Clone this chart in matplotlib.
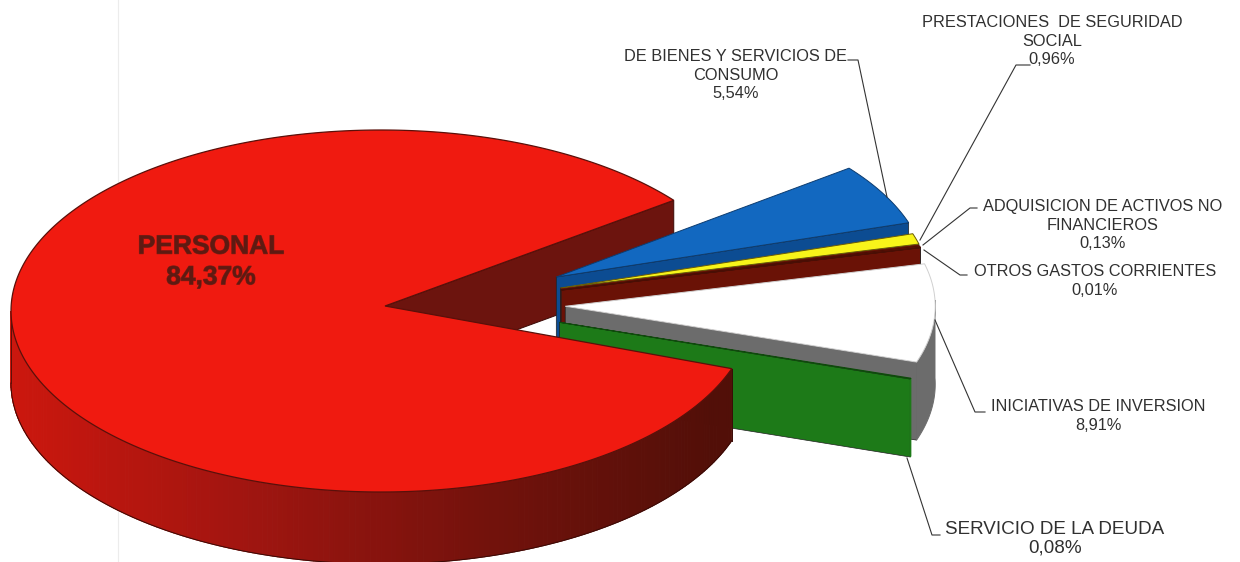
"""Exploded 3D style pie of budget shares, drawn by hand on one axes."""

import matplotlib

matplotlib.use("Agg")
import matplotlib.patheffects as pe
import matplotlib.pyplot as plt
import numpy as np
from matplotlib.colors import LinearSegmentedColormap

plt.rcParams["font.family"] = ["Liberation Sans", "DejaVu Sans"]

# data, in drawing order going clockwise from the big slice's end
categories = [
    "DE BIENES Y SERVICIOS DE\nCONSUMO",
    "PRESTACIONES  DE SEGURIDAD\nSOCIAL",
    "ADQUISICION DE ACTIVOS NO\nFINANCIEROS",
    "OTROS GASTOS CORRIENTES",
    "INICIATIVAS DE INVERSION",
    "SERVICIO DE LA DEUDA",
]
shares = [5.54, 0.96, 0.13, 0.01, 8.91, 0.08]
main_category = "PERSONAL"
main_share = 84.37

top_colors = ["#1268c0", "#f8f41a", "#6a1206", "#6a1206", "#ffffff", "#1d7a18"]
wall_colors = ["#0c4c92", "#6a1206", "#6a1206", "#6a1206", "#6c6c6c", "#1d7a18"]
edge_colors = ["#0c3c70", "#6a5a06", "#4a0e04", "#4a0e04", "#d0d0d0", "#0f4a0c"]

START_ANGLE = 37.7
MAIN_RX, MAIN_RY = 370, 181
MAIN_CX, MAIN_CY = 381, 311
APEX_X, APEX_Y = 385, 306
DEPTH = 72
SLICE_RX, SLICE_RY = 370, 178
SLICE_DEPTH = 78
EXPLODE_X, EXPLODE_Y = 181, 58
OFFSET_Y = 304


def rim(cx, cy, rx, ry, a0, a1, n=120):
    """Points on the ellipse between two angles in degrees."""
    t = np.radians(np.linspace(a0, a1, n))
    return np.column_stack([cx + rx * np.cos(t), cy - ry * np.sin(t)])


def face(ax, pts, color, edge, lw=0.7, z=1):
    ax.fill(pts[:, 0], pts[:, 1], facecolor=color, edgecolor=edge, linewidth=lw, zorder=z)


def draw_slice(ax, cx, cy, a0, a1, top, wall, edge, z):
    """One exploded slice: lower cut face, outer wall and top."""
    down = np.array([0, SLICE_DEPTH])
    apex = np.array([cx, cy])
    end = rim(cx, cy, SLICE_RX, SLICE_RY, a1, a1, 1)[0]
    face(ax, np.array([apex, end, end + down, apex + down]), wall, "#202020", lw=0.5, z=z)
    if a1 < 0:
        vis = rim(cx, cy, SLICE_RX, SLICE_RY, min(a0, 2), a1)
        band = np.vstack([vis, (vis + down)[::-1]])
        face(ax, band, wall, wall, z=z)
    outer = rim(cx, cy, SLICE_RX, SLICE_RY, a0, a1)
    face(ax, np.vstack([apex, outer]), top, edge, z=z + 0.5)


fig = plt.figure(figsize=(12.4, 5.62), dpi=100)
ax = fig.add_axes([0, 0, 1, 1])
ax.set_xlim(0, 1240)
ax.set_ylim(562, 0)
ax.axis("off")

# faint scan line
ax.plot([118, 118], [0, 562], color="#ececec", lw=0.8, zorder=0)

main_sweep = main_share * 3.6
main_end = START_ANGLE - (360 - main_sweep)  # clockwise end of the gap

# back cut face of the big slice, under everything else
apex = np.array([APEX_X, APEX_Y])
edge_pt = rim(MAIN_CX, MAIN_CY, MAIN_RX, MAIN_RY, START_ANGLE, START_ANGLE, 1)[0]
down = np.array([0, DEPTH])
face(ax, np.array([apex, edge_pt, edge_pt + down, apex + down]), "#6c140e", "#3a0a06", z=1)

# exploded slices, back to front
a0 = START_ANGLE
for i, share in enumerate(shares):
    a1 = a0 - share * 3.6
    mid = (a0 + a1) / 2
    draw_slice(
        ax,
        APEX_X + EXPLODE_X - 0.35 * abs(mid),
        OFFSET_Y - EXPLODE_Y * np.sin(np.radians(mid)),
        a0,
        a1,
        top_colors[i],
        wall_colors[i],
        edge_colors[i],
        2 + i,
    )
    a0 = a1

# big slice wall, shaded left to right
shade = LinearSegmentedColormap.from_list("wall", ["#cc170e", "#a01510", "#74120c", "#520f08"])
angles = np.linspace(180, 360 + main_end, 200)
for a, b in zip(angles[:-1], angles[1:]):
    seg = rim(MAIN_CX, MAIN_CY, MAIN_RX, MAIN_RY, a, b, 3)
    quad = np.vstack([seg, (seg + [0, DEPTH])[::-1]])
    col = shade((seg[0, 0] - (MAIN_CX - MAIN_RX)) / (2 * MAIN_RX * 0.95))
    ax.fill(quad[:, 0], quad[:, 1], facecolor=col, edgecolor=col, linewidth=0.8, zorder=10)
bottom = rim(MAIN_CX, MAIN_CY + DEPTH, MAIN_RX, MAIN_RY, 180, 360 + main_end)
ax.plot(bottom[:, 0], bottom[:, 1], color="#3a0a06", lw=0.7, zorder=11)
left_x = MAIN_CX - MAIN_RX
ax.plot([left_x, left_x], [MAIN_CY, MAIN_CY + DEPTH], color="#5a100a", lw=0.7, zorder=11)
end_pt = rim(MAIN_CX, MAIN_CY, MAIN_RX, MAIN_RY, main_end, main_end, 1)[0]
ax.plot([end_pt[0], end_pt[0]], [end_pt[1], end_pt[1] + DEPTH], color="#3a0a06", lw=0.7, zorder=11)

# big slice top
outer = rim(MAIN_CX, MAIN_CY, MAIN_RX, MAIN_RY, START_ANGLE, 360 + main_end, 400)
face(ax, np.vstack([apex, outer]), "#f01a10", "#5a100a", lw=0.9, z=12)

# leader lines
leaders = [
    ([848, 858, 887], [60, 60, 197]),
    ([1030, 1016, 920], [65, 65, 240]),
    ([977, 970, 923], [208, 208, 245]),
    ([967, 960, 924], [275, 275, 250]),
    ([985, 975, 935], [412, 412, 320]),
    ([940, 932, 907], [535, 535, 458]),
]
for xs, ys in leaders:
    ax.plot(xs, ys, color="#333333", lw=0.8, zorder=20)

# labels, the last one runs wider in the original
label_pos = [(736, 75), (1052, 41), (1103, 225), (1095, 281), (1098, 416), (1055, 539)]
label_size = [11.8, 11.8, 11.8, 11.8, 11.8, 13.6]
for name, share, (x, y), size in zip(categories, shares, label_pos, label_size):
    ax.text(
        x, y, f"{name}\n{share:.2f}%".replace(".", ","), ha="center", va="center",
        fontsize=size, color="#303030", linespacing=1.32 * 11.8 / size, zorder=21,
    )

label = ax.text(
    211, 262, f"{main_category}\n{main_share:.2f}%".replace(".", ","), ha="center", va="center",
    fontsize=19, fontweight="bold", color="#5e1a12", linespacing=1.35, zorder=21,
)
label.set_path_effects([pe.withStroke(linewidth=0.8, foreground="#8a1a12")])

fig.savefig("out.png", dpi=100)
